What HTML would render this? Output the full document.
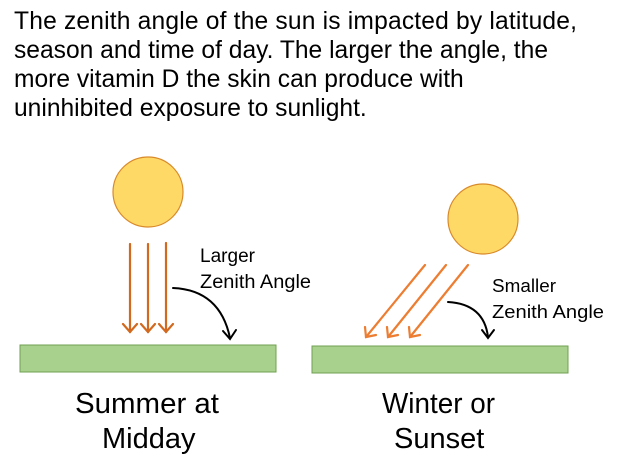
<!DOCTYPE html>
<html><head><meta charset="utf-8"><style>
body{margin:0;background:#fff;width:622px;height:474px;overflow:hidden}
svg{display:block}
</style></head><body>
<svg width="622" height="474" xmlns="http://www.w3.org/2000/svg">
<g font-family="Liberation Sans, Arial, sans-serif" font-size="24.6" fill="#000">
<text x="14" y="29" textLength="563" lengthAdjust="spacing">The zenith angle of the sun is impacted by latitude,</text>
<text x="14" y="58" textLength="534" lengthAdjust="spacing">season and time of day.  The larger the angle, the</text>
<text x="14" y="87">more vitamin D the skin can produce with</text>
<text x="14" y="116">uninhibited exposure to sunlight.</text>
</g>
<circle cx="148" cy="192" r="35" fill="#ffd966" stroke="#d98a2b" stroke-width="1.2"/>
<g stroke="#d2691e" stroke-width="2.2" fill="none" stroke-linecap="round">
<line x1="130" y1="244" x2="130" y2="332"/><path d="M123,324 L130,332 L137,324"/>
<line x1="148" y1="244" x2="148" y2="332"/><path d="M141,324 L148,332 L155,324"/>
<line x1="166" y1="243" x2="166" y2="332"/><path d="M159,324 L166,332 L173,324"/>
</g>
<g stroke="#ed7d31" stroke-width="2.2" fill="none" stroke-linecap="round">
<line x1="425" y1="265" x2="366" y2="337"/><path d="M365,327 L366,337 L376,335"/>
<line x1="446" y1="265" x2="388" y2="337"/><path d="M387,327 L388,337 L398,335"/>
<line x1="468" y1="265" x2="410" y2="337"/><path d="M409,327 L410,337 L420,335"/>
</g>
<circle cx="483" cy="219" r="35" fill="#ffd966" stroke="#d98a2b" stroke-width="1.2"/>
<g stroke="#000" stroke-width="2" fill="none" stroke-linecap="round">
<path d="M173,288 Q220,290 230,338"/><path d="M223,331 L230,339 L236,330"/>
<path d="M448,302 Q484,304 488,337"/><path d="M482,330 L488,338 L494,330"/>
</g>
<rect x="20" y="345" width="256" height="27" fill="#a9d18e" stroke="#70a050" stroke-width="1"/>
<rect x="312" y="346" width="256" height="27" fill="#a9d18e" stroke="#70a050" stroke-width="1"/>
<g font-family="Liberation Sans, DejaVu Sans, sans-serif" fill="#000">
<text x="200" y="262" font-size="19" textLength="55" lengthAdjust="spacingAndGlyphs">Larger</text>
<text x="200" y="288" font-size="19" textLength="111" lengthAdjust="spacingAndGlyphs">Zenith Angle</text>
<text x="492" y="292" font-size="18" textLength="64" lengthAdjust="spacingAndGlyphs">Smaller</text>
<text x="492" y="318" font-size="18" textLength="112" lengthAdjust="spacingAndGlyphs">Zenith Angle</text>
<g font-size="29">
<text x="75" y="413" textLength="144" lengthAdjust="spacingAndGlyphs">Summer at</text>
<text x="102" y="448">Midday</text>
<text x="382" y="413" textLength="113" lengthAdjust="spacingAndGlyphs">Winter or</text>
<text x="394" y="448">Sunset</text>
</g>
</g>
</svg>
</body></html>
